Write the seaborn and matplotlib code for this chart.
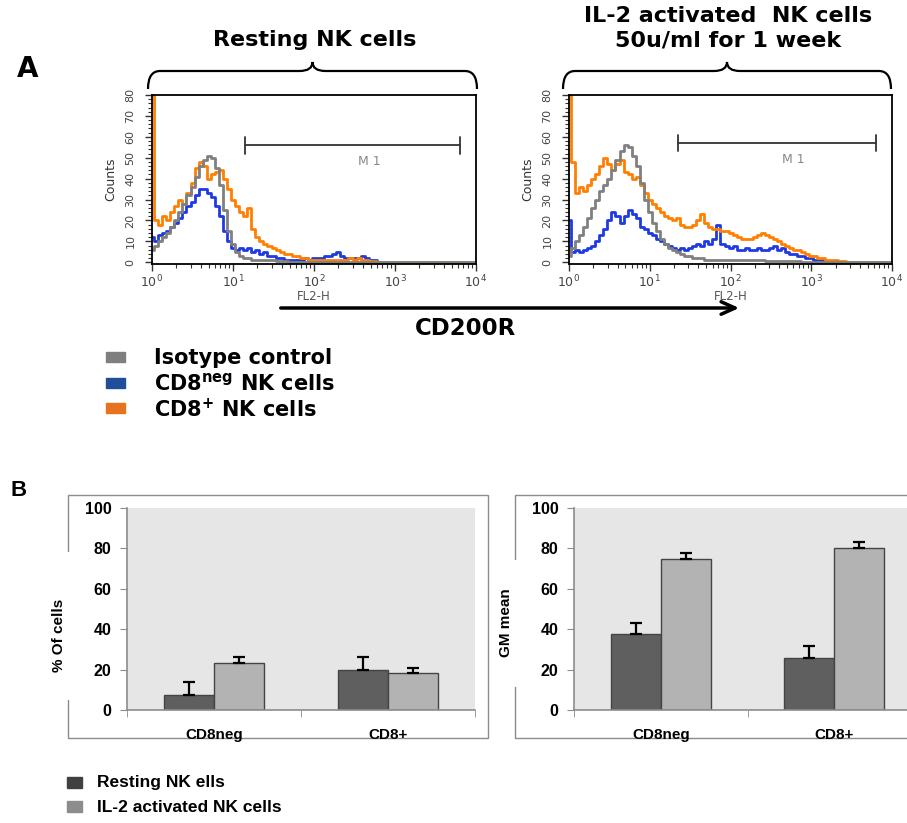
import numpy as np
import pandas as pd
import matplotlib
matplotlib.use('Agg')
import matplotlib.pyplot as plt
from matplotlib.path import Path
from matplotlib.patches import PathPatch, Rectangle
from matplotlib.ticker import MultipleLocator, LogLocator, NullFormatter
import seaborn as sns

sns.set_style('white')
plt.rcParams['font.family'] = ['DejaVu Sans']
plt.rcParams['text.color'] = 'black'
plt.rcParams['axes.labelcolor'] = 'black'
plt.rcParams['xtick.color'] = 'black'
plt.rcParams['ytick.color'] = 'black'

# ---- data ----
# FACS channel positions (decades of FL2-H)
log_fl2 = np.round(np.arange(0, 4.01, 0.05), 2)

# resting NK cells (counts)
rest_iso = [6, 8, 10, 12, 14, 17, 20, 24, 28, 32,
            36, 41, 46, 49, 51, 50, 45, 37, 25, 15,
            9, 5, 3, 2, 2, 1, 1, 1, 1, 1,
            1, 0.5, 0.5, 0.5, 0, 0, 0, 0, 0, 0,
            0, 0, 0, 0, 0, 0, 0, 0, 0, 0,
            0, 0, 0, 0, 0, 0, 0, 0, 0, 0,
            0, 0, 0, 0, 0, 0, 0, 0, 0, 0,
            0, 0, 0, 0, 0, 0, 0, 0, 0, 0, 0]
rest_neg = [12, 10, 13, 14, 15, 17, 19, 21, 24, 27,
            29, 32, 35, 35, 33, 31, 27, 22, 15, 10,
            7, 6, 7, 6, 7, 5, 6, 4, 5, 3,
            3, 2, 2, 1, 1, 1, 1, 1, 2, 1,
            2, 2, 2, 3, 3, 4, 5, 3, 2, 2,
            2, 2, 3, 2, 1, 1, 0, 0, 0, 0,
            0, 0, 0, 0, 0, 0, 0, 0, 0, 0,
            0, 0, 0, 0, 0, 0, 0, 0, 0, 0, 0]
rest_pos = [80, 20, 18, 22, 20, 24, 27, 30, 28, 33,
            38, 45, 48, 46, 40, 42, 43, 44, 40, 35,
            30, 27, 24, 22, 26, 16, 12, 10, 9, 8,
            7, 6, 5, 4, 4, 3, 3, 2, 2, 1,
            1, 1, 1, 1, 1, 1, 1, 1, 1, 2,
            1, 2, 1, 1, 0.5, 0.5, 0, 0, 0, 0,
            0, 0, 0, 0, 0, 0, 0, 0, 0, 0,
            0, 0, 0, 0, 0, 0, 0, 0, 0, 0, 0]

# IL-2 activated NK cells (counts)
act_iso = [3, 7, 10, 13, 17, 21, 26, 30, 34, 37,
           40, 44, 49, 53, 56, 55, 51, 46, 38, 30,
           24, 19, 15, 11, 9, 7, 6, 5, 4, 3,
           3, 2, 2, 2, 1, 1, 1, 1, 1, 1,
           1, 1, 1, 1, 1, 1, 1, 1, 1, 0.5,
           0.5, 0.5, 0.5, 0.5, 0.5, 0.5, 0.5, 0.5, 0, 0,
           0, 0, 0, 0, 0, 0, 0, 0, 0, 0,
           0, 0, 0, 0, 0, 0, 0, 0, 0, 0, 0]
act_neg = [20, 5, 6, 5, 6, 7, 8, 10, 13, 16,
           20, 24, 22, 19, 22, 25, 23, 21, 17, 16,
           14, 13, 11, 10, 9, 8, 7, 6, 7, 6,
           7, 8, 9, 8, 10, 9, 11, 18, 9, 8,
           7, 8, 6, 6, 7, 6, 6, 7, 6, 6,
           7, 8, 6, 7, 5, 4, 4, 3, 3, 2,
           2, 1, 1, 1, 0.5, 0, 0, 0, 0, 0,
           0, 0, 0, 0, 0, 0, 0, 0, 0, 0, 0]
act_pos = [80, 48, 33, 36, 34, 37, 40, 42, 46, 50,
           47, 44, 47, 49, 43, 42, 40, 41, 37, 33,
           30, 28, 26, 24, 22, 21, 20, 21, 18, 17,
           17, 18, 20, 23, 19, 17, 16, 16, 15, 15,
           14, 13, 12, 11, 11, 11, 12, 13, 14, 13,
           12, 11, 10, 9, 8, 7, 6, 6, 5, 4,
           3, 3, 2, 2, 1, 1, 1, 0.5, 0.5, 0,
           0, 0, 0, 0, 0, 0, 0, 0, 0, 0, 0]

# M1 gates (FL2-H low, high, counts level)
rest_gate = [10 ** 1.15, 10 ** 3.8, 56]
act_gate = [10 ** 1.35, 10 ** 3.8, 57]

# panel B bar data
cats = ['CD8neg', 'CD8+']
groups = ['Resting NK ells', 'IL-2 activated NK cells']
pct_rest = [7.5, 20.0]
pct_rest_err = [6.2, 6.2]
pct_act = [23.5, 18.2]
pct_act_err = [2.6, 2.8]
gm_rest = [37.6, 25.6]
gm_rest_err = [5.6, 6.0]
gm_act = [74.6, 80.1]
gm_act_err = [3.0, 2.9]

# ---- layout helpers ----
W, H = 907, 823
fig = plt.figure(figsize=(W / 100, H / 100), dpi=100)


def box(l, t, r, b):
    return [l / W, 1 - b / H, (r - l) / W, (b - t) / H]


ov = fig.add_axes([0, 0, 1, 1])
ov.set_xlim(0, W)
ov.set_ylim(H, 0)
ov.axis('off')

c_iso, c_neg, c_pos = '#808080', '#1f3be0', '#ff8000'


def hist_panel(rect, iso, neg, pos, gate):
    ax = fig.add_axes(box(*rect))
    x = 10 ** log_fl2
    for y, c in [(neg, c_neg), (pos, c_pos), (iso, c_iso)]:
        sns.lineplot(x=x, y=y, ax=ax, color=c, lw=2, drawstyle='steps-mid',
                     estimator=None)
    ax.set_xscale('log')
    ax.set_xlim(1, 1e4)
    ax.set_ylim(-0.8, 80)
    ax.yaxis.set_major_locator(MultipleLocator(10))
    ax.yaxis.set_minor_locator(MultipleLocator(2))
    ax.xaxis.set_minor_locator(LogLocator(subs=np.arange(2, 10)))
    ax.xaxis.set_minor_formatter(NullFormatter())
    ax.tick_params(which='major', length=5, width=1, color='#333', labelsize=9,
                   labelcolor='#444', left=True, bottom=True)
    ax.tick_params(axis='x', which='major', pad=2)
    ax.tick_params(axis='y', which='major', pad=7)
    ax.tick_params(which='minor', length=3, width=0.8, color='#333', left=True, bottom=True)
    for t in ax.get_yticklabels():
        t.set_rotation(90)
        t.set_va('center')
        t.set_fontsize(8)
    for s in ax.spines.values():
        s.set_color('black')
        s.set_linewidth(1.3)
    ax.set_xlabel('FL2-H', fontsize=8.5, color='#555', labelpad=0)
    ax.set_ylabel('Counts', fontsize=9, color='#333', labelpad=6)
    lo, hi, lev = gate
    ax.plot([lo, hi], [lev, lev], color='#333', lw=1.3)
    ax.plot([lo, lo], [lev - 4, lev + 4], color='#333', lw=1.3)
    ax.plot([hi, hi], [lev - 4, lev + 4], color='#333', lw=1.3)
    ax.text(np.sqrt(lo * hi) * 1.6, lev - 8, 'M 1', ha='center', va='center',
            fontsize=9, color='#888')
    return ax


hist_panel((152, 95, 476, 264), rest_iso, rest_neg, rest_pos, rest_gate)
hist_panel((569, 95, 892, 264), act_iso, act_neg, act_pos, act_gate)


def brace(l, r, y, depth=18, tip=9):
    m = (l + r) / 2
    verts = [(l, y + depth), (l, y), (l + 12, y), (m - 13, y), (m, y), (m, y - tip),
             (m, y), (m + 13, y), (r - 12, y), (r, y), (r, y + depth)]
    codes = [Path.MOVETO, Path.CURVE3, Path.CURVE3, Path.LINETO, Path.CURVE3, Path.CURVE3,
             Path.CURVE3, Path.CURVE3, Path.LINETO, Path.CURVE3, Path.CURVE3]
    ov.add_patch(PathPatch(Path(verts, codes), fc='none', ec='black', lw=1.6))


brace(148, 477, 71)
brace(563, 891, 71)

ov.text(28, 69, 'A', fontsize=20, fontweight='bold', ha='center', va='center')
ov.text(315, 40, 'Resting NK cells', fontsize=16, fontweight='bold', ha='center', va='center')
ov.text(728, 16, 'IL-2 activated  NK cells', fontsize=16, fontweight='bold', ha='center', va='center')
ov.text(728, 40, '50u/ml for 1 week', fontsize=16, fontweight='bold', ha='center', va='center')

ov.annotate('', xy=(742, 308), xytext=(278, 308),
            arrowprops=dict(arrowstyle='->,head_length=1.0,head_width=0.45', lw=2.5, color='black'))
ov.text(466, 328, 'CD200R', fontsize=16.5, fontweight='bold', ha='center', va='center')

leg_a = [('Isotype control', '#7f7f7f'),
         (r'CD8$^{\mathbf{neg}}$ NK cells', '#1f4e9a'),
         (r'CD8$^{\mathbf{+}}$ NK cells', '#e8731e')]
for i, (lab, c) in enumerate(leg_a):
    yy = 357 + i * 25.5
    ov.add_patch(Rectangle((106, yy - 5), 19, 10, color=c))
    ov.text(154, yy + 1, lab, fontsize=15, fontweight='bold', ha='left', va='center')

# ---- panel B ----
ov.text(19, 490, 'B', fontsize=16, fontweight='bold', ha='center', va='center', family='Liberation Sans')
ov.add_patch(Rectangle((68, 495), 420, 243, fc='none', ec='#8c8c8c', lw=1))
ov.add_patch(Rectangle((515, 495), 420, 243, fc='none', ec='#8c8c8c', lw=1))
ov.add_patch(Rectangle((58, 552), 22, 148, fc='white', ec='none', zorder=5))
ov.add_patch(Rectangle((505, 560), 22, 127, fc='white', ec='none', zorder=5))

c_dark, c_light = '#5f5f5f', '#b3b3b3'
bfont = 'Liberation Sans'


def bar_panel(rect, rest, rest_err, act, act_err, ylab, lab_y):
    ax = fig.add_axes(box(*rect))
    df = pd.DataFrame({'cat': cats * 2,
                       'group': [groups[0]] * 2 + [groups[1]] * 2,
                       'val': list(rest) + list(act)})
    sns.barplot(data=df, x='cat', y='val', hue='group', hue_order=groups,
                palette=[c_dark, c_light], width=0.575, edgecolor='#444444',
                linewidth=1, legend=False, ax=ax, zorder=2)
    errs = list(rest_err) + list(act_err)
    for p, e in zip(ax.patches, errs):
        xc = p.get_x() + p.get_width() / 2
        ax.errorbar(xc, p.get_height(), yerr=[[0], [e]], color='black', lw=1.6,
                    capsize=4, capthick=1.6, zorder=3)
    ax.set_facecolor('#e6e6e6')
    ax.set_xlim(-0.5, 1.5)
    ax.set_ylim(0, 100)
    ax.set_yticks(range(0, 101, 20))
    ax.set_yticklabels([str(v) for v in range(0, 101, 20)], fontweight='bold',
                       fontsize=11.5, family=bfont)
    ax.set_xticks([0, 1])
    ax.set_xticklabels(cats, fontweight='bold', fontsize=11, family=bfont)
    ax.set_xticks([-0.5, 0.5, 1.5], minor=True)
    ax.tick_params(axis='x', which='major', length=0, pad=13)
    ax.tick_params(axis='x', which='minor', length=5, color='#8c8c8c', bottom=True)
    ax.tick_params(axis='y', length=5, color='#8c8c8c', left=True, pad=6)
    for s in ['top', 'right']:
        ax.spines[s].set_visible(False)
    for s in ['left', 'bottom']:
        ax.spines[s].set_color('#8c8c8c')
        ax.spines[s].set_linewidth(1.2)
    ax.set_xlabel('')
    ax.set_ylabel(ylab, fontweight='bold', fontsize=11, family=bfont)
    ax.yaxis.set_label_coords(-0.175, lab_y)
    ax.yaxis.label.set_zorder(10)
    return ax


bar_panel((127, 508, 475, 710), pct_rest, pct_rest_err, pct_act, pct_act_err, '% Of cells', 0.37)
bar_panel((574, 508, 921, 710), gm_rest, gm_rest_err, gm_act, gm_act_err, 'GM mean', 0.435)

leg_b = [(groups[0], '#404040'), (groups[1], '#8c8c8c')]
for i, (lab, c) in enumerate(leg_b):
    yy = 783 + i * 24
    ov.add_patch(Rectangle((67, yy - 6), 15, 11, color=c))
    ov.text(97, yy, lab, fontsize=12.5, fontweight='bold', ha='left', va='center', family=bfont)

fig.savefig('out.png', dpi=100)
